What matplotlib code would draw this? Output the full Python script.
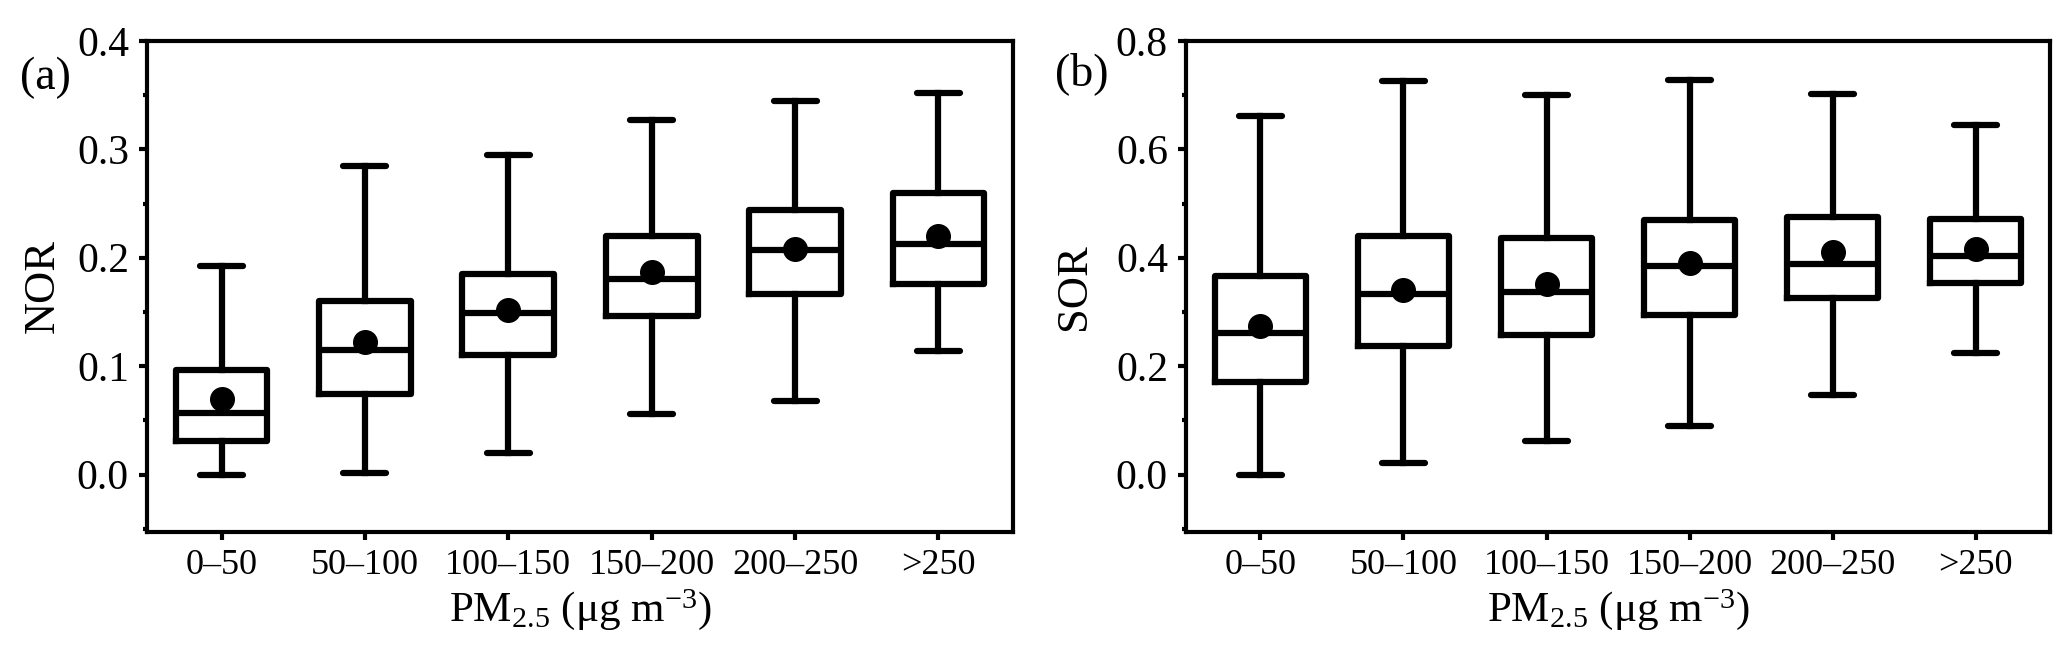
import matplotlib
matplotlib.use('Agg')
import matplotlib.pyplot as plt
from matplotlib.ticker import MultipleLocator

plt.rcParams['font.family'] = ['Liberation Serif', 'DejaVu Serif']
plt.rcParams['mathtext.fontset'] = 'custom'
plt.rcParams['mathtext.rm'] = 'Liberation Serif'
plt.rcParams['mathtext.it'] = 'Liberation Serif:italic'

categories = ['0–50', '50–100', '100–150', '150–200', '200–250', '>250']

# NOR (panel a)
nor_whislo = [0.000, 0.001, 0.020, 0.056, 0.068, 0.114]
nor_q1 = [0.031, 0.074, 0.110, 0.146, 0.167, 0.176]
nor_med = [0.057, 0.115, 0.149, 0.180, 0.207, 0.213]
nor_q3 = [0.096, 0.160, 0.185, 0.220, 0.244, 0.260]
nor_whishi = [0.192, 0.285, 0.295, 0.327, 0.345, 0.352]
nor_mean = [0.070, 0.122, 0.152, 0.187, 0.208, 0.220]

# SOR (panel b)
sor_whislo = [0.000, 0.021, 0.062, 0.090, 0.146, 0.225]
sor_q1 = [0.170, 0.237, 0.258, 0.295, 0.325, 0.354]
sor_med = [0.262, 0.334, 0.336, 0.384, 0.389, 0.404]
sor_q3 = [0.367, 0.440, 0.436, 0.470, 0.476, 0.472]
sor_whishi = [0.662, 0.727, 0.700, 0.728, 0.702, 0.644]
sor_mean = [0.274, 0.341, 0.352, 0.390, 0.411, 0.416]

fig = plt.figure(figsize=(20.67, 6.53), dpi=100)
ax1 = fig.add_axes([0.0711, 0.1853, 0.419, 0.752])
ax2 = fig.add_axes([0.5738, 0.1853, 0.418, 0.752])

lw = 4.5

def draw(ax, lo, q1, med, q3, hi, mean, ylim, major, minor, ylabel, ylpad, tag, tagx, tagy):
    stats = []
    for i in range(len(categories)):
        stats.append({'whislo': lo[i], 'q1': q1[i], 'med': med[i], 'q3': q3[i],
                      'whishi': hi[i], 'mean': mean[i], 'fliers': [],
                      'label': categories[i]})
    pos = list(range(1, len(categories) + 1))
    ax.bxp(stats, positions=pos, widths=0.64, capwidths=0.30, showmeans=True,
           showfliers=False,
           boxprops=dict(color='black', linewidth=lw),
           whiskerprops=dict(color='black', linewidth=lw),
           capprops=dict(color='black', linewidth=lw, solid_capstyle='round'),
           medianprops=dict(color='black', linewidth=lw),
           meanprops=dict(marker='o', markerfacecolor='black',
                          markeredgecolor='black', markersize=17))
    ax.set_xlim(0.48, 6.52)
    ax.set_ylim(*ylim)
    ax.yaxis.set_major_locator(MultipleLocator(major))
    ax.yaxis.set_minor_locator(MultipleLocator(minor))
    ax.set_yticklabels([f'{t:.1f}' for t in ax.get_yticks()])
    ax.set_ylim(*ylim)
    for s in ax.spines.values():
        s.set_linewidth(3)
    ax.tick_params(axis='both', which='major', direction='out', length=6,
                   width=3)
    ax.tick_params(axis='y', which='major', pad=7, labelsize=30)
    ax.tick_params(axis='x', which='major', pad=6, labelsize=26)
    ax.tick_params(axis='y', which='minor', direction='out', length=3, width=3)
    ax.set_ylabel(ylabel, fontsize=32, labelpad=ylpad)
    ax.set_xlabel(r'PM$_{2.5}$ ($\mathrm{\mu}$g m$^{-3}$)', fontsize=31, labelpad=4)
    fig.text(tagx, tagy, tag, fontsize=33, ha='center', va='center')

draw(ax1, nor_whislo, nor_q1, nor_med, nor_q3, nor_whishi, nor_mean,
     (-0.053, 0.4), 0.1, 0.05, 'NOR', 10, '(a)', 0.0218, 0.881)
draw(ax2, sor_whislo, sor_q1, sor_med, sor_q3, sor_whishi, sor_mean,
     (-0.106, 0.8), 0.2, 0.1, 'SOR', 16, '(b)', 0.5235, 0.887)

fig.savefig('out.png', dpi=100)
